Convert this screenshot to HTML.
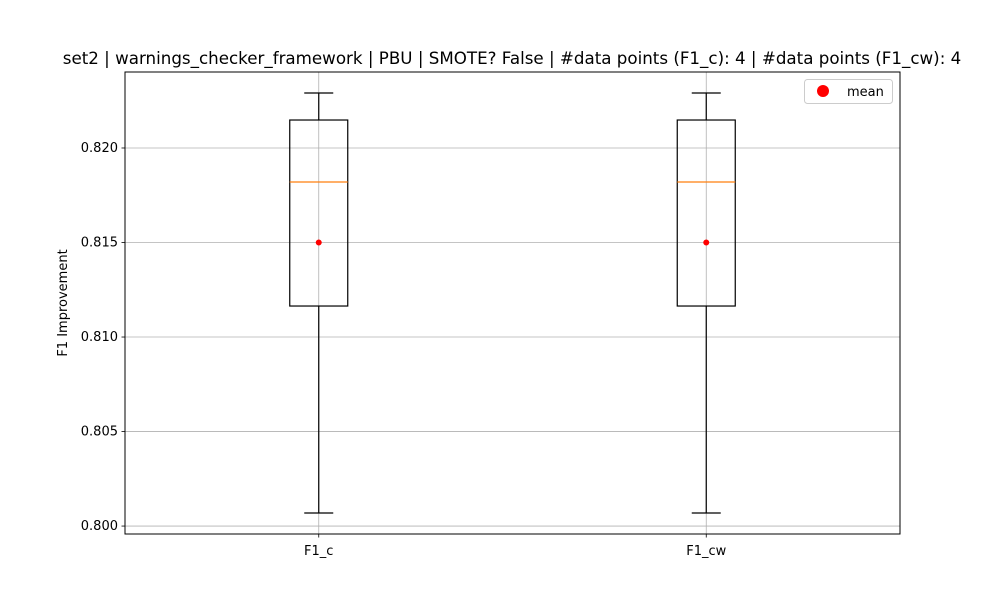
<!DOCTYPE html>
<html><head><meta charset="utf-8"><style>
body{margin:0;background:#fff;font-family:"Liberation Sans","DejaVu Sans",sans-serif}
svg text{font-family:"DejaVu Sans","Liberation Sans",sans-serif}
</style></head><body>
<svg id="chart" width="1000" height="600"></svg>
<script>
const categories=["F1_c","F1_cw"];
const whiskerLow=[0.80069,0.80069];
const q1=[0.81164,0.81164];
const medians=[0.8182,0.8182];
const q3=[0.82148,0.82148];
const whiskerHigh=[0.82291,0.82291];
const means=[0.815,0.815];
const yTicks=[0.800,0.805,0.810,0.815,0.820];
const yTickLabels=["0.800","0.805","0.810","0.815","0.820"];

const L=125,R=900,T=72,B=534;
const yMin=0.79958,yMax=0.82402;
const y=v=>B-(v-yMin)/(yMax-yMin)*(B-T);
const x=i=>L+(i+1-0.5)/2*(R-L);
const NS="http://www.w3.org/2000/svg";
const svg=document.getElementById('chart');
function mk(tag,attrs,parent){const e=document.createElementNS(NS,tag);for(const k in attrs)e.setAttribute(k,attrs[k]);(parent||svg).appendChild(e);return e;}

yTicks.forEach((t,i)=>{
  const g=mk('line',{x1:L,x2:R,y1:y(t),y2:y(t),stroke:'#b0b0b0','stroke-width':0.8});
  
  
  const tk=mk('line',{x1:L-3.5,x2:L,y1:y(t),y2:y(t),stroke:'#000','stroke-width':0.8});
  
  
  const lb=mk('text',{x:L-7,y:y(t)+4,'text-anchor':'end','font-size':13,fill:'#000'});
  lb.textContent=yTickLabels[i];
  
  
});
categories.forEach((c,i)=>{
  const g=mk('line',{x1:x(i),x2:x(i),y1:T,y2:B,stroke:'#b0b0b0','stroke-width':0.8});
  
  
  const tk=mk('line',{x1:x(i),x2:x(i),y1:B,y2:B+3.5,stroke:'#000','stroke-width':0.8});
  
  
  const lb=mk('text',{x:x(i),y:B+21,'text-anchor':'middle','font-size':13,fill:'#000'});
  lb.textContent=c;
  
  
});
const hw=29,cw=14.5;
categories.forEach((c,i)=>{
  const g=mk('g',{});
  
  
  const cx=x(i);
  mk('line',{x1:cx,x2:cx,y1:y(whiskerLow[i]),y2:y(q1[i]),stroke:'#000','stroke-width':1.2},g);
  mk('line',{x1:cx,x2:cx,y1:y(q3[i]),y2:y(whiskerHigh[i]),stroke:'#000','stroke-width':1.2},g);
  mk('line',{x1:cx-cw,x2:cx+cw,y1:y(whiskerLow[i]),y2:y(whiskerLow[i]),stroke:'#000','stroke-width':1.2},g);
  mk('line',{x1:cx-cw,x2:cx+cw,y1:y(whiskerHigh[i]),y2:y(whiskerHigh[i]),stroke:'#000','stroke-width':1.2},g);
  mk('rect',{x:cx-hw,y:y(q3[i]),width:2*hw,height:y(q1[i])-y(q3[i]),fill:'none',stroke:'#000','stroke-width':1.2},g);
  mk('line',{x1:cx-hw,x2:cx+hw,y1:y(medians[i]),y2:y(medians[i]),stroke:'#ff7f0e','stroke-width':1.2},g);
  const m=mk('circle',{cx:cx,cy:y(means[i]),r:2.5,fill:'red',stroke:'red'},g);
  
  
});
mk('rect',{x:L,y:T,width:R-L,height:B-T,fill:'none',stroke:'#000','stroke-width':1});
</script>
<svg width="1000" height="600" style="position:absolute;left:0;top:0">
<text x="512" y="64" text-anchor="middle" font-size="16.7">set2 | warnings_checker_framework | PBU | SMOTE? False | #data points (F1_c): 4 | #data points (F1_cw): 4</text>
<text x="67" y="303" text-anchor="middle" font-size="13" transform="rotate(-90 67 303)">F1 Improvement</text>
<g>
<rect x="804.5" y="79.5" width="88" height="24" rx="3" fill="#fff" stroke="#ccc"/>
<circle cx="823" cy="91" r="6" fill="red"/>
<text x="847" y="96" font-size="13">mean</text>
</g>
</svg>
</body></html>
